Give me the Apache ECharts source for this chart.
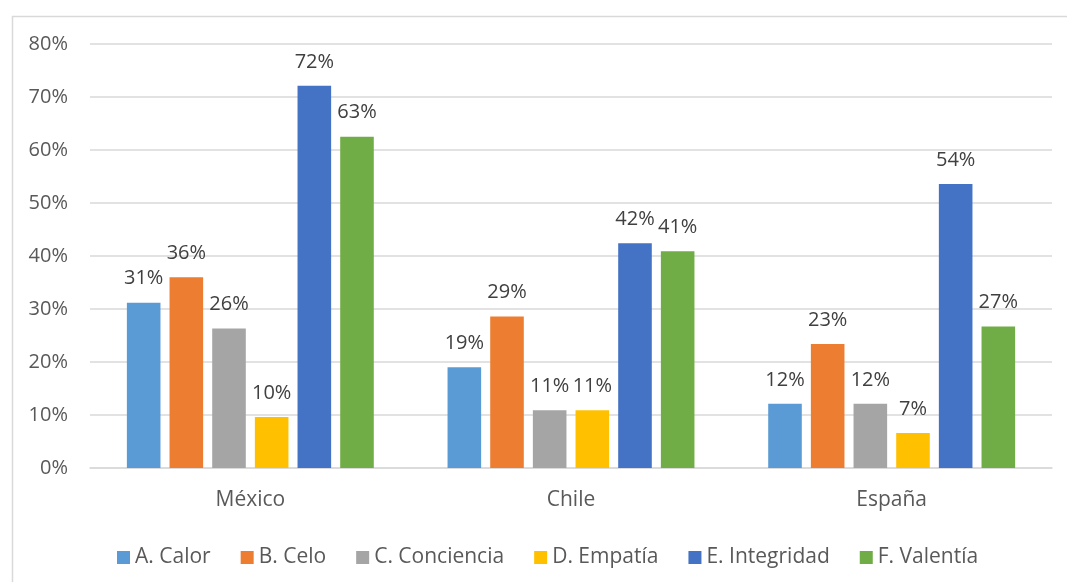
<!DOCTYPE html>
<html>
<head>
<meta charset="utf-8">
<script src="https://cdn.jsdelivr.net/npm/echarts@6/dist/echarts.min.js"></script>
<style>
html,body{margin:0;padding:0;background:#fff;}
#chart{width:1067px;height:582px;}
</style>
</head>
<body>
<div id="chart"></div>
<script>
const categories = ['México', 'Chile', 'España'];
const seriesNames = ['A. Calor', 'B. Celo', 'C. Conciencia', 'D. Empatía', 'E. Integridad', 'F. Valentía'];
const calor = [31.2, 19.0, 12.1];
const celo = [36.0, 28.6, 23.4];
const conciencia = [26.3, 10.9, 12.1];
const empatia = [9.6, 10.9, 6.6];
const integridad = [72.1, 42.4, 53.6];
const valentia = [62.5, 40.9, 26.7];
const yTicks = [0, 10, 20, 30, 40, 50, 60, 70, 80];
const colors = ['#5B9BD5', '#ED7D31', '#A5A5A5', '#FFC000', '#4472C4', '#70AD47'];

const allValues = [calor, celo, conciencia, empatia, integridad, valentia];
const FONT = '"Open Sans", sans-serif';

const chart = echarts.init(document.getElementById('chart'));
chart.setOption({
  animation: false,
  color: colors,
  textStyle: { fontFamily: FONT },
  graphic: [{
    type: 'rect',
    left: 10, top: 14,
    shape: { width: 1100, height: 620 },
    style: { fill: 'none', stroke: '#D9D9D9', lineWidth: 1.5 },
    silent: true
  }],
  grid: { left: 90, right: 15, top: 44, bottom: 114, containLabel: false },
  legend: {
    left: 112, top: 542,
    itemWidth: 13, itemHeight: 13, itemGap: 30,
    icon: 'rect',
    textStyle: { fontFamily: FONT, fontSize: 21, color: '#595959' },
    data: seriesNames
  },
  xAxis: {
    type: 'category',
    data: categories,
    axisLine: { lineStyle: { color: '#D9D9D9', width: 1.5 } },
    axisTick: { show: false },
    axisLabel: { fontFamily: FONT, fontSize: 21, color: '#595959', margin: 22 }
  },
  yAxis: {
    type: 'value',
    min: yTicks[0], max: yTicks[yTicks.length - 1], interval: 10,
    axisLine: { show: false },
    axisTick: { show: false },
    splitLine: { lineStyle: { color: '#D9D9D9', width: 1.5 } },
    axisLabel: { fontFamily: FONT, fontSize: 20, color: '#595959', margin: 22, formatter: '{value}%' }
  },
  series: seriesNames.map((name, i) => ({
    name: name,
    type: 'bar',
    data: allValues[i],
    barGap: '27%',
    barCategoryGap: '23%',
    label: {
      show: true, position: 'top', distance: 14,
      fontFamily: FONT, fontSize: 20, color: '#404040',
      formatter: p => Math.round(p.value) + '%'
    }
  }))
});
</script>
</body>
</html>
